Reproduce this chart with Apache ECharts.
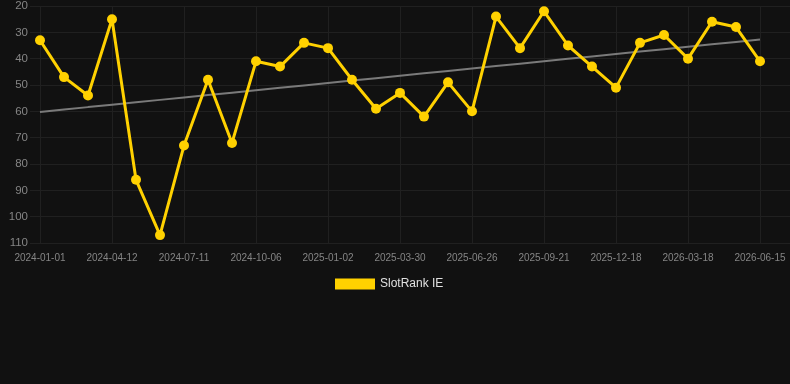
<!DOCTYPE html>
<html>
<head>
<meta charset="utf-8">
<script src="https://cdn.jsdelivr.net/npm/echarts@6/dist/echarts.min.js"></script>
<style>
  html, body { margin: 0; padding: 0; background: #111111; }
  #chart { width: 790px; height: 384px; }
</style>
</head>
<body>
<div id="chart"></div>
<script>
// dates on the x axis (one point per date)
var dates = [
  "2024-01-01", "2024-02-04", "2024-03-09", "2024-04-12", "2024-05-12", "2024-06-11",
  "2024-07-11", "2024-08-09", "2024-09-07", "2024-10-06", "2024-11-04", "2024-12-03",
  "2025-01-02", "2025-01-31", "2025-03-01", "2025-03-30", "2025-04-28", "2025-05-28",
  "2025-06-26", "2025-07-25", "2025-08-23", "2025-09-21", "2025-10-20", "2025-11-18",
  "2025-12-18", "2026-01-17", "2026-02-16", "2026-03-18", "2026-04-16", "2026-05-16",
  "2026-06-15"
];
// rank values
var rankIE = [
  33, 47, 54, 25, 86, 107, 73, 48, 72, 41, 43, 34,
  36, 48, 59, 53, 62, 49, 60, 24, 36, 22, 35, 43,
  51, 34, 31, 40, 26, 28, 41
];
var seriesName = "SlotRank IE";

// linear trend (least squares) over the rank values
function trendOf(vals) {
  var n = vals.length, sx = 0, sy = 0, sxy = 0, sxx = 0;
  for (var i = 0; i < n; i++) {
    sx += i; sy += vals[i]; sxy += i * vals[i]; sxx += i * i;
  }
  var slope = (n * sxy - sx * sy) / (n * sxx - sx * sx);
  var icpt = (sy - slope * sx) / n;
  return vals.map(function (v, i) { return +(icpt + slope * i).toFixed(2); });
}
var trend = trendOf(rankIE);

var labelColor = "#858585";
var gridColor = "#202020";

var chart = echarts.init(document.getElementById("chart"));
chart.setOption({
  backgroundColor: "#111111",
  animation: false,
  textStyle: { fontFamily: "Liberation Sans, Arial, sans-serif" },
  legend: {
    data: [seriesName],
    top: 273,
    left: 330,
    itemWidth: 40,
    itemHeight: 11,
    itemGap: 6,
    textStyle: { color: "#e0e0e0", fontSize: 12 },
    icon: "rect"
  },
  grid: [
    { left: 40, right: 30, top: 6, bottom: 141 },
    // wider grid just for the horizontal lines
    { left: 30, right: 0, top: 6, bottom: 141 }
  ],
  xAxis: [
    {
      type: "category",
      gridIndex: 0,
      data: dates,
      boundaryGap: false,
      axisLine: { show: false },
      axisTick: { show: false, interval: 2 },
      axisLabel: { interval: 2, color: labelColor, fontSize: 10, margin: 10 },
      splitLine: { show: true, interval: 2, lineStyle: { color: gridColor, width: 1 } }
    },
    {
      type: "category",
      gridIndex: 1,
      data: dates,
      show: false
    }
  ],
  yAxis: [
    {
      type: "value",
      gridIndex: 0,
      inverse: true,
      min: 20,
      max: 110,
      interval: 10,
      axisLine: { show: false },
      axisTick: { show: false },
      axisLabel: { color: labelColor, fontSize: 11.5, margin: 12 },
      splitLine: { show: false }
    },
    {
      type: "value",
      gridIndex: 1,
      inverse: true,
      min: 20,
      max: 110,
      interval: 10,
      axisLine: { show: false },
      axisTick: { show: false },
      axisLabel: { show: false },
      splitLine: { show: true, lineStyle: { color: gridColor, width: 1 } }
    }
  ],
  series: [
    {
      name: "trend",
      type: "line",
      xAxisIndex: 0,
      yAxisIndex: 0,
      data: trend,
      showSymbol: false,
      symbol: "none",
      lineStyle: { color: "#7a7a7a", width: 2 },
      z: 2
    },
    {
      name: seriesName,
      type: "line",
      xAxisIndex: 0,
      yAxisIndex: 0,
      data: rankIE,
      symbol: "circle",
      symbolSize: 10,
      itemStyle: { color: "#FFD100" },
      lineStyle: { color: "#FFD100", width: 3 },
      z: 3
    }
  ]
});
</script>
</body>
</html>
